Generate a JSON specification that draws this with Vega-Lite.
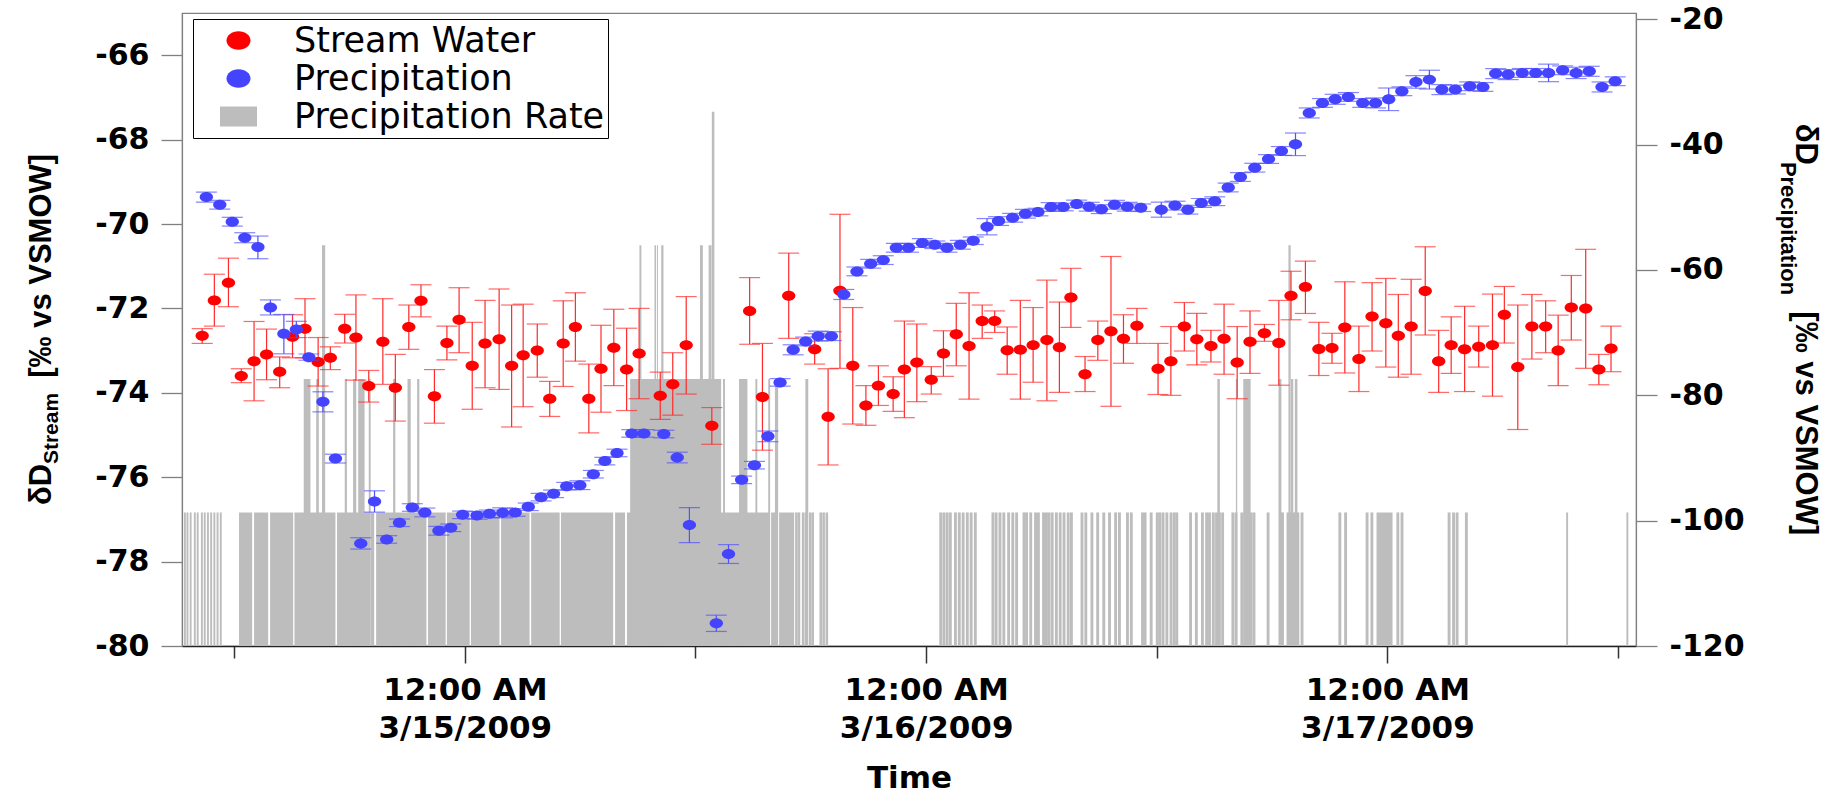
{
  "$schema": "https://vega.github.io/schema/vega-lite/v6.json",
  "width": 1454,
  "height": 633,
  "autosize": {"type": "none"},
  "padding": {"left": 182, "top": 13, "right": 193, "bottom": 149},
  "background": "white",
  "config": {"view": {"stroke": "#808080", "strokeWidth": 1.2}, "axis": {"grid": false}},
  "datasets": {
    "stream": [
      {"t":"2009-03-14T10:20","v":-72.65,"hi":-72.48,"lo":-72.83},
      {"t":"2009-03-14T10:58","v":-71.81,"hi":-71.19,"lo":-72.42},
      {"t":"2009-03-14T11:42","v":-71.39,"hi":-70.81,"lo":-71.96},
      {"t":"2009-03-14T12:22","v":-73.60,"hi":-73.43,"lo":-73.76},
      {"t":"2009-03-14T13:02","v":-73.25,"hi":-72.31,"lo":-74.19},
      {"t":"2009-03-14T13:41","v":-73.09,"hi":-72.49,"lo":-73.69},
      {"t":"2009-03-14T14:22","v":-73.50,"hi":-73.15,"lo":-73.88},
      {"t":"2009-03-14T15:02","v":-72.67,"hi":-72.15,"lo":-73.17},
      {"t":"2009-03-14T15:41","v":-72.48,"hi":-71.77,"lo":-73.17},
      {"t":"2009-03-14T16:22","v":-73.27,"hi":-72.69,"lo":-73.84},
      {"t":"2009-03-14T17:00","v":-73.17,"hi":-72.91,"lo":-73.45},
      {"t":"2009-03-14T17:45","v":-72.48,"hi":-72.14,"lo":-72.82},
      {"t":"2009-03-14T18:20","v":-72.69,"hi":-71.68,"lo":-73.70},
      {"t":"2009-03-14T19:00","v":-73.84,"hi":-73.47,"lo":-74.22},
      {"t":"2009-03-14T19:44","v":-72.79,"hi":-71.77,"lo":-73.80},
      {"t":"2009-03-14T20:23","v":-73.88,"hi":-73.09,"lo":-74.67},
      {"t":"2009-03-14T21:05","v":-72.44,"hi":-71.92,"lo":-72.97},
      {"t":"2009-03-14T21:43","v":-71.82,"hi":-71.44,"lo":-72.20},
      {"t":"2009-03-14T22:25","v":-74.08,"hi":-73.45,"lo":-74.72},
      {"t":"2009-03-14T23:04","v":-72.82,"hi":-72.42,"lo":-73.22},
      {"t":"2009-03-14T23:42","v":-72.27,"hi":-71.51,"lo":-73.05},
      {"t":"2009-03-15T00:23","v":-73.36,"hi":-72.33,"lo":-74.39},
      {"t":"2009-03-15T01:03","v":-72.83,"hi":-71.81,"lo":-73.88},
      {"t":"2009-03-15T01:47","v":-72.73,"hi":-71.54,"lo":-73.92},
      {"t":"2009-03-15T02:26","v":-73.36,"hi":-71.92,"lo":-74.81},
      {"t":"2009-03-15T03:02","v":-73.11,"hi":-71.90,"lo":-74.33},
      {"t":"2009-03-15T03:46","v":-73.00,"hi":-72.37,"lo":-73.63},
      {"t":"2009-03-15T04:25","v":-74.14,"hi":-73.73,"lo":-74.56},
      {"t":"2009-03-15T05:07","v":-72.83,"hi":-71.82,"lo":-73.85},
      {"t":"2009-03-15T05:45","v":-72.44,"hi":-71.63,"lo":-73.25},
      {"t":"2009-03-15T06:27","v":-74.14,"hi":-73.32,"lo":-74.95},
      {"t":"2009-03-15T07:05","v":-73.43,"hi":-72.40,"lo":-74.46},
      {"t":"2009-03-15T07:45","v":-72.93,"hi":-72.02,"lo":-73.83},
      {"t":"2009-03-15T08:25","v":-73.45,"hi":-72.47,"lo":-74.42},
      {"t":"2009-03-15T09:04","v":-73.07,"hi":-72.00,"lo":-74.14},
      {"t":"2009-03-15T10:10","v":-74.07,"hi":-73.51,"lo":-74.63},
      {"t":"2009-03-15T10:49","v":-73.80,"hi":-73.05,"lo":-74.53},
      {"t":"2009-03-15T11:31","v":-72.87,"hi":-71.72,"lo":-74.03},
      {"t":"2009-03-15T12:51","v":-74.78,"hi":-74.35,"lo":-75.22},
      {"t":"2009-03-15T14:49","v":-72.06,"hi":-71.27,"lo":-72.85},
      {"t":"2009-03-15T15:29","v":-74.10,"hi":-72.83,"lo":-75.36},
      {"t":"2009-03-15T16:51","v":-71.70,"hi":-70.69,"lo":-72.71},
      {"t":"2009-03-15T18:12","v":-72.97,"hi":-72.60,"lo":-73.32},
      {"t":"2009-03-15T18:54","v":-74.57,"hi":-73.43,"lo":-75.71},
      {"t":"2009-03-15T19:31","v":-71.58,"hi":-69.77,"lo":-73.42},
      {"t":"2009-03-15T20:11","v":-73.36,"hi":-71.98,"lo":-74.74},
      {"t":"2009-03-15T20:52","v":-74.30,"hi":-73.83,"lo":-74.77},
      {"t":"2009-03-15T21:31","v":-73.83,"hi":-73.36,"lo":-74.30},
      {"t":"2009-03-15T22:17","v":-74.03,"hi":-73.62,"lo":-74.44},
      {"t":"2009-03-15T22:52","v":-73.45,"hi":-72.30,"lo":-74.59},
      {"t":"2009-03-15T23:31","v":-73.28,"hi":-72.37,"lo":-74.21},
      {"t":"2009-03-16T00:16","v":-73.69,"hi":-73.38,"lo":-74.03},
      {"t":"2009-03-16T00:54","v":-73.07,"hi":-72.53,"lo":-73.61},
      {"t":"2009-03-16T01:34","v":-72.61,"hi":-71.88,"lo":-73.36},
      {"t":"2009-03-16T02:14","v":-72.89,"hi":-71.63,"lo":-74.15},
      {"t":"2009-03-16T02:55","v":-72.30,"hi":-71.92,"lo":-72.71},
      {"t":"2009-03-16T03:34","v":-72.30,"hi":-72.06,"lo":-72.57},
      {"t":"2009-03-16T04:13","v":-72.99,"hi":-72.44,"lo":-73.56},
      {"t":"2009-03-16T04:54","v":-72.98,"hi":-71.81,"lo":-74.15},
      {"t":"2009-03-16T05:34","v":-72.87,"hi":-71.98,"lo":-73.75},
      {"t":"2009-03-16T06:17","v":-72.75,"hi":-71.33,"lo":-74.19},
      {"t":"2009-03-16T06:56","v":-72.92,"hi":-71.85,"lo":-73.99},
      {"t":"2009-03-16T07:32","v":-71.74,"hi":-71.05,"lo":-72.45},
      {"t":"2009-03-16T08:16","v":-73.56,"hi":-73.14,"lo":-73.97},
      {"t":"2009-03-16T08:56","v":-72.75,"hi":-72.30,"lo":-73.23},
      {"t":"2009-03-16T09:37","v":-72.54,"hi":-70.77,"lo":-74.32},
      {"t":"2009-03-16T10:16","v":-72.72,"hi":-72.15,"lo":-73.30},
      {"t":"2009-03-16T10:58","v":-72.41,"hi":-72.00,"lo":-72.83},
      {"t":"2009-03-16T12:04","v":-73.43,"hi":-72.83,"lo":-74.04},
      {"t":"2009-03-16T12:44","v":-73.25,"hi":-72.43,"lo":-74.06},
      {"t":"2009-03-16T13:26","v":-72.43,"hi":-71.86,"lo":-73.01},
      {"t":"2009-03-16T14:05","v":-72.73,"hi":-72.12,"lo":-73.34},
      {"t":"2009-03-16T14:49","v":-72.89,"hi":-72.52,"lo":-73.27},
      {"t":"2009-03-16T15:30","v":-72.72,"hi":-71.90,"lo":-73.56},
      {"t":"2009-03-16T16:11","v":-73.28,"hi":-72.43,"lo":-74.14},
      {"t":"2009-03-16T16:51","v":-72.79,"hi":-72.06,"lo":-73.54},
      {"t":"2009-03-16T17:36","v":-72.59,"hi":-72.38,"lo":-72.78},
      {"t":"2009-03-16T18:21","v":-72.82,"hi":-71.81,"lo":-73.82},
      {"t":"2009-03-16T18:59","v":-71.70,"hi":-71.12,"lo":-72.27},
      {"t":"2009-03-16T19:44","v":-71.49,"hi":-70.88,"lo":-72.12},
      {"t":"2009-03-16T20:26","v":-72.96,"hi":-72.33,"lo":-73.59},
      {"t":"2009-03-16T21:07","v":-72.94,"hi":-72.59,"lo":-73.30},
      {"t":"2009-03-16T21:47","v":-72.45,"hi":-71.37,"lo":-73.53},
      {"t":"2009-03-16T22:31","v":-73.20,"hi":-72.42,"lo":-73.97},
      {"t":"2009-03-16T23:12","v":-72.19,"hi":-71.39,"lo":-73.01},
      {"t":"2009-03-16T23:55","v":-72.35,"hi":-71.29,"lo":-73.39},
      {"t":"2009-03-17T00:34","v":-72.65,"hi":-71.67,"lo":-73.63},
      {"t":"2009-03-17T01:14","v":-72.43,"hi":-71.31,"lo":-73.56},
      {"t":"2009-03-17T01:58","v":-71.59,"hi":-70.54,"lo":-72.63},
      {"t":"2009-03-17T02:40","v":-73.25,"hi":-72.52,"lo":-73.99},
      {"t":"2009-03-17T03:19","v":-72.87,"hi":-72.20,"lo":-73.54},
      {"t":"2009-03-17T04:01","v":-72.97,"hi":-71.95,"lo":-73.97},
      {"t":"2009-03-17T04:45","v":-72.91,"hi":-72.42,"lo":-73.39},
      {"t":"2009-03-17T05:28","v":-72.87,"hi":-71.66,"lo":-74.08},
      {"t":"2009-03-17T06:05","v":-72.15,"hi":-71.48,"lo":-72.82},
      {"t":"2009-03-17T06:47","v":-73.39,"hi":-71.92,"lo":-74.87},
      {"t":"2009-03-17T07:31","v":-72.43,"hi":-71.67,"lo":-73.20},
      {"t":"2009-03-17T08:14","v":-72.43,"hi":-71.82,"lo":-73.05},
      {"t":"2009-03-17T08:53","v":-73.00,"hi":-72.16,"lo":-73.83},
      {"t":"2009-03-17T09:34","v":-71.98,"hi":-71.22,"lo":-72.75},
      {"t":"2009-03-17T10:19","v":-72.00,"hi":-70.60,"lo":-73.42},
      {"t":"2009-03-17T11:00","v":-73.45,"hi":-73.09,"lo":-73.81},
      {"t":"2009-03-17T11:38","v":-72.95,"hi":-72.42,"lo":-73.50}
    ],
    "precip": [
      {"t":"2009-03-14T10:33","v":-48.37,"hi":-47.57,"lo":-49.17},
      {"t":"2009-03-14T11:15","v":-49.59,"hi":-48.89,"lo":-50.29},
      {"t":"2009-03-14T11:54","v":-52.30,"hi":-51.60,"lo":-53.00},
      {"t":"2009-03-14T12:33","v":-54.86,"hi":-54.06,"lo":-55.66},
      {"t":"2009-03-14T13:14","v":-56.35,"hi":-54.59,"lo":-58.21},
      {"t":"2009-03-14T13:53","v":-65.98,"hi":-64.78,"lo":-67.18},
      {"t":"2009-03-14T14:35","v":-70.19,"hi":-67.10,"lo":-73.38},
      {"t":"2009-03-14T15:14","v":-69.49,"hi":-68.19,"lo":-70.79},
      {"t":"2009-03-14T15:53","v":-73.91,"hi":-73.41,"lo":-74.41},
      {"t":"2009-03-14T16:37","v":-81.04,"hi":-79.44,"lo":-82.64},
      {"t":"2009-03-14T17:16","v":-90.10,"hi":-89.40,"lo":-90.80},
      {"t":"2009-03-14T18:35","v":-103.63,"hi":-102.73,"lo":-104.53},
      {"t":"2009-03-14T19:18","v":-96.94,"hi":-95.24,"lo":-98.64},
      {"t":"2009-03-14T19:56","v":-103.00,"hi":-102.40,"lo":-103.60},
      {"t":"2009-03-14T20:36","v":-100.34,"hi":-99.74,"lo":-100.94},
      {"t":"2009-03-14T21:16","v":-97.90,"hi":-97.30,"lo":-98.50},
      {"t":"2009-03-14T21:55","v":-98.69,"hi":-97.99,"lo":-99.39},
      {"t":"2009-03-14T22:39","v":-101.61,"hi":-100.91,"lo":-102.31},
      {"t":"2009-03-14T23:16","v":-101.14,"hi":-100.54,"lo":-101.74},
      {"t":"2009-03-14T23:53","v":-99.07,"hi":-98.47,"lo":-99.67},
      {"t":"2009-03-15T00:38","v":-99.17,"hi":-98.57,"lo":-99.77},
      {"t":"2009-03-15T01:17","v":-98.91,"hi":-98.31,"lo":-99.51},
      {"t":"2009-03-15T01:58","v":-98.75,"hi":-97.95,"lo":-99.55},
      {"t":"2009-03-15T02:37","v":-98.69,"hi":-98.09,"lo":-99.29},
      {"t":"2009-03-15T03:18","v":-97.79,"hi":-97.19,"lo":-98.39},
      {"t":"2009-03-15T03:58","v":-96.25,"hi":-95.65,"lo":-96.85},
      {"t":"2009-03-15T04:37","v":-95.72,"hi":-95.12,"lo":-96.32},
      {"t":"2009-03-15T05:18","v":-94.50,"hi":-93.90,"lo":-95.10},
      {"t":"2009-03-15T05:59","v":-94.34,"hi":-93.64,"lo":-95.04},
      {"t":"2009-03-15T06:41","v":-92.59,"hi":-91.99,"lo":-93.19},
      {"t":"2009-03-15T07:17","v":-90.50,"hi":-89.90,"lo":-91.10},
      {"t":"2009-03-15T07:55","v":-89.20,"hi":-88.60,"lo":-89.80},
      {"t":"2009-03-15T08:41","v":-86.08,"hi":-85.48,"lo":-86.68},
      {"t":"2009-03-15T09:19","v":-86.08,"hi":-85.48,"lo":-86.68},
      {"t":"2009-03-15T10:21","v":-86.18,"hi":-85.58,"lo":-86.78},
      {"t":"2009-03-15T11:03","v":-89.93,"hi":-89.08,"lo":-90.78},
      {"t":"2009-03-15T11:41","v":-100.71,"hi":-97.91,"lo":-103.51},
      {"t":"2009-03-15T13:05","v":-116.38,"hi":-115.08,"lo":-117.68},
      {"t":"2009-03-15T13:43","v":-105.33,"hi":-103.83,"lo":-106.83},
      {"t":"2009-03-15T14:24","v":-93.49,"hi":-92.89,"lo":-94.09},
      {"t":"2009-03-15T15:04","v":-91.15,"hi":-90.55,"lo":-91.75},
      {"t":"2009-03-15T15:46","v":-86.55,"hi":-85.70,"lo":-87.40},
      {"t":"2009-03-15T16:24","v":-77.94,"hi":-77.34,"lo":-78.54},
      {"t":"2009-03-15T17:05","v":-72.74,"hi":-71.94,"lo":-73.54},
      {"t":"2009-03-15T17:44","v":-71.41,"hi":-70.71,"lo":-72.11},
      {"t":"2009-03-15T18:23","v":-70.56,"hi":-69.76,"lo":-71.36},
      {"t":"2009-03-15T19:04","v":-70.56,"hi":-69.86,"lo":-71.26},
      {"t":"2009-03-15T19:43","v":-63.91,"hi":-63.11,"lo":-64.71},
      {"t":"2009-03-15T20:24","v":-60.23,"hi":-59.53,"lo":-60.93},
      {"t":"2009-03-15T21:07","v":-59.01,"hi":-58.31,"lo":-59.71},
      {"t":"2009-03-15T21:46","v":-58.43,"hi":-57.73,"lo":-59.13},
      {"t":"2009-03-15T22:27","v":-56.46,"hi":-55.76,"lo":-57.16},
      {"t":"2009-03-15T23:05","v":-56.46,"hi":-55.76,"lo":-57.16},
      {"t":"2009-03-15T23:48","v":-55.70,"hi":-55.00,"lo":-56.40},
      {"t":"2009-03-16T00:27","v":-55.98,"hi":-55.38,"lo":-56.58},
      {"t":"2009-03-16T01:05","v":-56.46,"hi":-55.76,"lo":-57.16},
      {"t":"2009-03-16T01:47","v":-55.98,"hi":-55.28,"lo":-56.68},
      {"t":"2009-03-16T02:27","v":-55.34,"hi":-54.74,"lo":-55.94},
      {"t":"2009-03-16T03:10","v":-53.10,"hi":-51.80,"lo":-54.40},
      {"t":"2009-03-16T03:46","v":-52.20,"hi":-51.50,"lo":-52.90},
      {"t":"2009-03-16T04:30","v":-51.67,"hi":-50.97,"lo":-52.37},
      {"t":"2009-03-16T05:10","v":-51.03,"hi":-50.33,"lo":-51.73},
      {"t":"2009-03-16T05:49","v":-50.76,"hi":-50.16,"lo":-51.36},
      {"t":"2009-03-16T06:30","v":-49.96,"hi":-49.26,"lo":-50.66},
      {"t":"2009-03-16T07:08","v":-49.96,"hi":-49.36,"lo":-50.56},
      {"t":"2009-03-16T07:50","v":-49.46,"hi":-48.86,"lo":-50.06},
      {"t":"2009-03-16T08:29","v":-49.91,"hi":-49.21,"lo":-50.61},
      {"t":"2009-03-16T09:07","v":-50.30,"hi":-49.60,"lo":-51.00},
      {"t":"2009-03-16T09:48","v":-49.59,"hi":-48.89,"lo":-50.29},
      {"t":"2009-03-16T10:28","v":-49.91,"hi":-49.21,"lo":-50.61},
      {"t":"2009-03-16T11:10","v":-50.07,"hi":-49.47,"lo":-50.67},
      {"t":"2009-03-16T12:14","v":-50.38,"hi":-49.18,"lo":-51.58},
      {"t":"2009-03-16T12:57","v":-49.73,"hi":-49.03,"lo":-50.43},
      {"t":"2009-03-16T13:37","v":-50.38,"hi":-49.68,"lo":-51.08},
      {"t":"2009-03-16T14:19","v":-49.30,"hi":-48.60,"lo":-50.00},
      {"t":"2009-03-16T15:01","v":-49.03,"hi":-48.33,"lo":-49.73},
      {"t":"2009-03-16T15:43","v":-46.84,"hi":-46.14,"lo":-47.54},
      {"t":"2009-03-16T16:21","v":-45.17,"hi":-44.47,"lo":-45.87},
      {"t":"2009-03-16T17:06","v":-43.68,"hi":-42.98,"lo":-44.38},
      {"t":"2009-03-16T17:49","v":-42.30,"hi":-41.60,"lo":-43.00},
      {"t":"2009-03-16T18:29","v":-41.01,"hi":-40.31,"lo":-41.71},
      {"t":"2009-03-16T19:13","v":-39.95,"hi":-38.15,"lo":-41.75},
      {"t":"2009-03-16T19:56","v":-34.95,"hi":-34.15,"lo":-35.75},
      {"t":"2009-03-16T20:37","v":-33.35,"hi":-32.65,"lo":-34.05},
      {"t":"2009-03-16T21:17","v":-32.77,"hi":-31.97,"lo":-33.57},
      {"t":"2009-03-16T21:58","v":-32.39,"hi":-31.69,"lo":-33.09},
      {"t":"2009-03-16T22:43","v":-33.35,"hi":-32.65,"lo":-34.05},
      {"t":"2009-03-16T23:23","v":-33.35,"hi":-32.55,"lo":-34.15},
      {"t":"2009-03-17T00:04","v":-32.77,"hi":-30.97,"lo":-34.57},
      {"t":"2009-03-17T00:45","v":-31.49,"hi":-30.79,"lo":-32.19},
      {"t":"2009-03-17T01:29","v":-30.00,"hi":-29.00,"lo":-31.00},
      {"t":"2009-03-17T02:11","v":-29.63,"hi":-28.13,"lo":-31.13},
      {"t":"2009-03-17T02:50","v":-31.22,"hi":-30.42,"lo":-32.02},
      {"t":"2009-03-17T03:32","v":-31.22,"hi":-30.52,"lo":-31.92},
      {"t":"2009-03-17T04:17","v":-30.69,"hi":-29.99,"lo":-31.39},
      {"t":"2009-03-17T04:58","v":-30.80,"hi":-30.10,"lo":-31.50},
      {"t":"2009-03-17T05:38","v":-28.67,"hi":-27.87,"lo":-29.47},
      {"t":"2009-03-17T06:17","v":-28.83,"hi":-28.03,"lo":-29.63},
      {"t":"2009-03-17T07:01","v":-28.56,"hi":-27.86,"lo":-29.26},
      {"t":"2009-03-17T07:43","v":-28.56,"hi":-27.86,"lo":-29.26},
      {"t":"2009-03-17T08:23","v":-28.56,"hi":-27.16,"lo":-29.96},
      {"t":"2009-03-17T09:07","v":-28.14,"hi":-27.44,"lo":-28.84},
      {"t":"2009-03-17T09:49","v":-28.56,"hi":-27.66,"lo":-29.46},
      {"t":"2009-03-17T10:30","v":-28.30,"hi":-27.50,"lo":-29.10},
      {"t":"2009-03-17T11:10","v":-30.80,"hi":-30.00,"lo":-31.60},
      {"t":"2009-03-17T11:51","v":-29.89,"hi":-29.19,"lo":-30.59}
    ],
    "rate": [
      {"t":"2009-03-14T09:23","t2":"2009-03-14T09:29","rate":1},
      {"t":"2009-03-14T09:31","t2":"2009-03-14T09:37","rate":1},
      {"t":"2009-03-14T09:41","t2":"2009-03-14T09:47","rate":1},
      {"t":"2009-03-14T09:54","t2":"2009-03-14T10:00","rate":1},
      {"t":"2009-03-14T10:03","t2":"2009-03-14T10:09","rate":1},
      {"t":"2009-03-14T10:16","t2":"2009-03-14T10:22","rate":1},
      {"t":"2009-03-14T10:25","t2":"2009-03-14T10:31","rate":1},
      {"t":"2009-03-14T10:35","t2":"2009-03-14T10:41","rate":1},
      {"t":"2009-03-14T10:45","t2":"2009-03-14T10:51","rate":1},
      {"t":"2009-03-14T10:55","t2":"2009-03-14T11:01","rate":1},
      {"t":"2009-03-14T11:05","t2":"2009-03-14T11:11","rate":1},
      {"t":"2009-03-14T11:15","t2":"2009-03-14T11:21","rate":1},
      {"t":"2009-03-14T12:15","t2":"2009-03-14T12:56","rate":1},
      {"t":"2009-03-14T13:02","t2":"2009-03-14T13:46","rate":1},
      {"t":"2009-03-14T13:52","t2":"2009-03-14T15:04","rate":1},
      {"t":"2009-03-14T15:08","t2":"2009-03-14T17:16","rate":1},
      {"t":"2009-03-14T17:21","t2":"2009-03-14T19:01","rate":1},
      {"t":"2009-03-14T19:06","t2":"2009-03-14T19:17","rate":1},
      {"t":"2009-03-14T19:23","t2":"2009-03-14T22:00","rate":1},
      {"t":"2009-03-14T22:05","t2":"2009-03-14T23:00","rate":1},
      {"t":"2009-03-14T23:04","t2":"2009-03-15T00:15","rate":1},
      {"t":"2009-03-15T00:19","t2":"2009-03-15T01:48","rate":1},
      {"t":"2009-03-15T01:53","t2":"2009-03-15T03:22","rate":1},
      {"t":"2009-03-15T03:27","t2":"2009-03-15T04:56","rate":1},
      {"t":"2009-03-15T05:00","t2":"2009-03-15T07:43","rate":1},
      {"t":"2009-03-15T07:49","t2":"2009-03-15T08:20","rate":1},
      {"t":"2009-03-15T08:26","t2":"2009-03-15T11:01","rate":1},
      {"t":"2009-03-15T11:06","t2":"2009-03-15T15:51","rate":1},
      {"t":"2009-03-15T15:56","t2":"2009-03-15T16:16","rate":1},
      {"t":"2009-03-15T16:21","t2":"2009-03-15T17:08","rate":1},
      {"t":"2009-03-15T17:11","t2":"2009-03-15T17:19","rate":1},
      {"t":"2009-03-15T17:19","t2":"2009-03-15T17:27","rate":1},
      {"t":"2009-03-15T17:32","t2":"2009-03-15T17:40","rate":1},
      {"t":"2009-03-15T17:41","t2":"2009-03-15T17:49","rate":1},
      {"t":"2009-03-15T17:54","t2":"2009-03-15T18:02","rate":1},
      {"t":"2009-03-15T18:02","t2":"2009-03-15T18:10","rate":1},
      {"t":"2009-03-15T18:27","t2":"2009-03-15T18:35","rate":1},
      {"t":"2009-03-15T18:36","t2":"2009-03-15T18:44","rate":1},
      {"t":"2009-03-15T18:46","t2":"2009-03-15T18:54","rate":1},
      {"t":"2009-03-16T00:41","t2":"2009-03-16T00:50","rate":1},
      {"t":"2009-03-16T00:51","t2":"2009-03-16T01:00","rate":1},
      {"t":"2009-03-16T01:01","t2":"2009-03-16T01:10","rate":1},
      {"t":"2009-03-16T01:11","t2":"2009-03-16T01:20","rate":1},
      {"t":"2009-03-16T01:27","t2":"2009-03-16T01:36","rate":1},
      {"t":"2009-03-16T01:39","t2":"2009-03-16T01:48","rate":1},
      {"t":"2009-03-16T01:51","t2":"2009-03-16T02:00","rate":1},
      {"t":"2009-03-16T02:04","t2":"2009-03-16T02:13","rate":1},
      {"t":"2009-03-16T02:16","t2":"2009-03-16T02:25","rate":1},
      {"t":"2009-03-16T02:29","t2":"2009-03-16T02:38","rate":1},
      {"t":"2009-03-16T03:24","t2":"2009-03-16T03:33","rate":1},
      {"t":"2009-03-16T03:34","t2":"2009-03-16T03:43","rate":1},
      {"t":"2009-03-16T03:46","t2":"2009-03-16T03:55","rate":1},
      {"t":"2009-03-16T03:58","t2":"2009-03-16T04:07","rate":1},
      {"t":"2009-03-16T04:13","t2":"2009-03-16T04:22","rate":1},
      {"t":"2009-03-16T04:26","t2":"2009-03-16T04:35","rate":1},
      {"t":"2009-03-16T04:38","t2":"2009-03-16T04:47","rate":1},
      {"t":"2009-03-16T05:01","t2":"2009-03-16T05:10","rate":1},
      {"t":"2009-03-16T05:09","t2":"2009-03-16T05:18","rate":1},
      {"t":"2009-03-16T05:22","t2":"2009-03-16T05:31","rate":1},
      {"t":"2009-03-16T05:37","t2":"2009-03-16T05:46","rate":1},
      {"t":"2009-03-16T05:46","t2":"2009-03-16T05:55","rate":1},
      {"t":"2009-03-16T06:02","t2":"2009-03-16T06:11","rate":1},
      {"t":"2009-03-16T06:11","t2":"2009-03-16T06:20","rate":1},
      {"t":"2009-03-16T06:19","t2":"2009-03-16T06:28","rate":1},
      {"t":"2009-03-16T06:29","t2":"2009-03-16T06:38","rate":1},
      {"t":"2009-03-16T06:42","t2":"2009-03-16T06:51","rate":1},
      {"t":"2009-03-16T06:54","t2":"2009-03-16T07:03","rate":1},
      {"t":"2009-03-16T07:06","t2":"2009-03-16T07:15","rate":1},
      {"t":"2009-03-16T07:19","t2":"2009-03-16T07:28","rate":1},
      {"t":"2009-03-16T07:29","t2":"2009-03-16T07:38","rate":1},
      {"t":"2009-03-16T08:02","t2":"2009-03-16T08:11","rate":1},
      {"t":"2009-03-16T08:14","t2":"2009-03-16T08:23","rate":1},
      {"t":"2009-03-16T08:33","t2":"2009-03-16T08:42","rate":1},
      {"t":"2009-03-16T08:51","t2":"2009-03-16T09:00","rate":1},
      {"t":"2009-03-16T09:10","t2":"2009-03-16T09:19","rate":1},
      {"t":"2009-03-16T09:28","t2":"2009-03-16T09:37","rate":1},
      {"t":"2009-03-16T09:47","t2":"2009-03-16T09:56","rate":1},
      {"t":"2009-03-16T09:59","t2":"2009-03-16T10:08","rate":1},
      {"t":"2009-03-16T10:24","t2":"2009-03-16T10:33","rate":1},
      {"t":"2009-03-16T10:36","t2":"2009-03-16T10:45","rate":1},
      {"t":"2009-03-16T11:11","t2":"2009-03-16T11:20","rate":1},
      {"t":"2009-03-16T11:19","t2":"2009-03-16T11:28","rate":1},
      {"t":"2009-03-16T11:38","t2":"2009-03-16T11:47","rate":1},
      {"t":"2009-03-16T11:57","t2":"2009-03-16T12:06","rate":1},
      {"t":"2009-03-16T12:05","t2":"2009-03-16T12:14","rate":1},
      {"t":"2009-03-16T12:15","t2":"2009-03-16T12:24","rate":1},
      {"t":"2009-03-16T12:27","t2":"2009-03-16T12:36","rate":1},
      {"t":"2009-03-16T12:40","t2":"2009-03-16T12:49","rate":1},
      {"t":"2009-03-16T12:50","t2":"2009-03-16T12:59","rate":1},
      {"t":"2009-03-16T12:58","t2":"2009-03-16T13:07","rate":1},
      {"t":"2009-03-16T13:41","t2":"2009-03-16T13:50","rate":1},
      {"t":"2009-03-16T13:59","t2":"2009-03-16T14:08","rate":1},
      {"t":"2009-03-16T14:18","t2":"2009-03-16T14:27","rate":1},
      {"t":"2009-03-16T14:31","t2":"2009-03-16T14:40","rate":1},
      {"t":"2009-03-16T14:40","t2":"2009-03-16T14:49","rate":1},
      {"t":"2009-03-16T14:52","t2":"2009-03-16T15:01","rate":1},
      {"t":"2009-03-16T15:02","t2":"2009-03-16T15:11","rate":1},
      {"t":"2009-03-16T15:11","t2":"2009-03-16T15:20","rate":1},
      {"t":"2009-03-16T15:21","t2":"2009-03-16T15:30","rate":1},
      {"t":"2009-03-16T15:53","t2":"2009-03-16T16:02","rate":1},
      {"t":"2009-03-16T16:03","t2":"2009-03-16T16:12","rate":1},
      {"t":"2009-03-16T16:21","t2":"2009-03-16T16:30","rate":1},
      {"t":"2009-03-16T16:31","t2":"2009-03-16T16:40","rate":1},
      {"t":"2009-03-16T16:40","t2":"2009-03-16T16:49","rate":1},
      {"t":"2009-03-16T16:50","t2":"2009-03-16T16:59","rate":1},
      {"t":"2009-03-16T16:59","t2":"2009-03-16T17:08","rate":1},
      {"t":"2009-03-16T17:43","t2":"2009-03-16T17:52","rate":1},
      {"t":"2009-03-16T18:22","t2":"2009-03-16T18:31","rate":1},
      {"t":"2009-03-16T18:28","t2":"2009-03-16T18:37","rate":1},
      {"t":"2009-03-16T18:45","t2":"2009-03-16T18:54","rate":1},
      {"t":"2009-03-16T18:53","t2":"2009-03-16T19:02","rate":1},
      {"t":"2009-03-16T19:01","t2":"2009-03-16T19:10","rate":1},
      {"t":"2009-03-16T19:08","t2":"2009-03-16T19:17","rate":1},
      {"t":"2009-03-16T19:16","t2":"2009-03-16T19:25","rate":1},
      {"t":"2009-03-16T19:29","t2":"2009-03-16T19:38","rate":1},
      {"t":"2009-03-16T21:27","t2":"2009-03-16T21:36","rate":1},
      {"t":"2009-03-16T21:45","t2":"2009-03-16T21:54","rate":1},
      {"t":"2009-03-16T22:52","t2":"2009-03-16T23:01","rate":1},
      {"t":"2009-03-16T23:07","t2":"2009-03-16T23:16","rate":1},
      {"t":"2009-03-16T23:26","t2":"2009-03-17T00:16","rate":1},
      {"t":"2009-03-17T00:28","t2":"2009-03-17T00:37","rate":1},
      {"t":"2009-03-17T00:41","t2":"2009-03-17T00:50","rate":1},
      {"t":"2009-03-17T03:08","t2":"2009-03-17T03:17","rate":1},
      {"t":"2009-03-17T03:22","t2":"2009-03-17T03:31","rate":1},
      {"t":"2009-03-17T03:33","t2":"2009-03-17T03:42","rate":1},
      {"t":"2009-03-17T04:02","t2":"2009-03-17T04:11","rate":1},
      {"t":"2009-03-17T09:18","t2":"2009-03-17T09:24","rate":1},
      {"t":"2009-03-17T12:26","t2":"2009-03-17T12:32","rate":1},
      {"t":"2009-03-14T15:37","t2":"2009-03-14T15:58","rate":2},
      {"t":"2009-03-14T16:16","t2":"2009-03-14T16:24","rate":2},
      {"t":"2009-03-14T17:45","t2":"2009-03-14T17:52","rate":2},
      {"t":"2009-03-14T18:11","t2":"2009-03-14T18:21","rate":2},
      {"t":"2009-03-14T18:27","t2":"2009-03-14T18:47","rate":2},
      {"t":"2009-03-14T19:00","t2":"2009-03-14T19:06","rate":2},
      {"t":"2009-03-14T20:16","t2":"2009-03-14T20:23","rate":2},
      {"t":"2009-03-14T21:01","t2":"2009-03-14T21:11","rate":2},
      {"t":"2009-03-14T21:31","t2":"2009-03-14T21:38","rate":2},
      {"t":"2009-03-15T08:36","t2":"2009-03-15T13:20","rate":2},
      {"t":"2009-03-15T13:26","t2":"2009-03-15T13:32","rate":2},
      {"t":"2009-03-15T14:16","t2":"2009-03-15T14:42","rate":2},
      {"t":"2009-03-15T15:07","t2":"2009-03-15T15:13","rate":2},
      {"t":"2009-03-15T15:47","t2":"2009-03-15T15:53","rate":2},
      {"t":"2009-03-15T16:08","t2":"2009-03-15T16:18","rate":2},
      {"t":"2009-03-15T17:43","t2":"2009-03-15T17:52","rate":2},
      {"t":"2009-03-16T15:09","t2":"2009-03-16T15:17","rate":2},
      {"t":"2009-03-16T16:07","t2":"2009-03-16T16:11","rate":2},
      {"t":"2009-03-16T16:30","t2":"2009-03-16T16:53","rate":2},
      {"t":"2009-03-16T18:20","t2":"2009-03-16T18:29","rate":2},
      {"t":"2009-03-16T18:59","t2":"2009-03-16T19:06","rate":2},
      {"t":"2009-03-16T19:11","t2":"2009-03-16T19:19","rate":2},
      {"t":"2009-03-14T16:34","t2":"2009-03-14T16:44","rate":3},
      {"t":"2009-03-15T09:05","t2":"2009-03-15T09:11","rate":3},
      {"t":"2009-03-15T09:52","t2":"2009-03-15T09:57","rate":3},
      {"t":"2009-03-15T10:00","t2":"2009-03-15T10:03","rate":3},
      {"t":"2009-03-15T10:13","t2":"2009-03-15T10:20","rate":3},
      {"t":"2009-03-15T12:14","t2":"2009-03-15T12:23","rate":3},
      {"t":"2009-03-15T12:41","t2":"2009-03-15T12:50","rate":3},
      {"t":"2009-03-16T18:51","t2":"2009-03-16T18:58","rate":3},
      {"t":"2009-03-15T12:51","t2":"2009-03-15T12:59","rate":4}
    ]
  },
  "encoding": {
    "x": {
      "field": "t",
      "type": "temporal",
      "scale": {
        "domain": [
          {"year": 2009, "month": 3, "date": 14, "hours": 9, "minutes": 17},
          {"year": 2009, "month": 3, "date": 17, "hours": 12, "minutes": 56}
        ],
        "nice": false
      },
      "axis": {
        "values": [
          {"year": 2009, "month": 3, "date": 14, "hours": 12},
          {"year": 2009, "month": 3, "date": 15, "hours": 0},
          {"year": 2009, "month": 3, "date": 15, "hours": 12},
          {"year": 2009, "month": 3, "date": 16, "hours": 0},
          {"year": 2009, "month": 3, "date": 16, "hours": 12},
          {"year": 2009, "month": 3, "date": 17, "hours": 0},
          {"year": 2009, "month": 3, "date": 17, "hours": 12}
        ],
        "labelExpr": "hours(datum.value) == 0 ? ['12:00 AM', (month(datum.value) + 1) + '/' + date(datum.value) + '/' + year(datum.value)] : ''",
        "tickSize": {"condition": {"test": "hours(datum.value) == 0", "value": 17}, "value": 12},
        "tickColor": "#333333",
        "tickWidth": 1.5,
        "domainColor": "#222222",
        "domainWidth": 1.5,
        "labelFont": "DejaVu Sans",
        "labelFontWeight": "bold",
        "labelFontSize": 31,
        "labelColor": "#000000",
        "labelBaseline": "alphabetic",
        "labelPadding": 36,
        "labelLineHeight": 38,
        "labelFlush": false,
        "labelOverlap": false,
        "grid": false,
        "title": "Time",
        "titleFont": "DejaVu Sans",
        "titleFontWeight": "bold",
        "titleFontSize": 31,
        "titleColor": "#000000",
        "titleX": 727,
        "titleY": 141,
        "titleAlign": "center",
        "titleBaseline": "alphabetic"
      }
    }
  },
  "layer": [
    {
      "data": {"name": "rate"},
      "mark": {"type": "bar", "color": "#bdbdbd"},
      "encoding": {
        "x2": {"field": "t2"},
        "y": {
          "field": "rate",
          "type": "quantitative",
          "scale": {"domain": [0, 4.74], "nice": false, "zero": true},
          "axis": {
            "orient": "right",
            "domain": false, "ticks": false, "labels": false, "grid": false,
            "title": "Precipitation",
            "titleFont": "Liberation Sans", "titleFontWeight": "bold", "titleFontSize": 22, "titleColor": "#000000",
            "titleAngle": 90, "titleX": 151, "titleY": 215, "titleAlign": "center", "titleBaseline": "middle"
          }
        },
        "y2": {"datum": 0},
        "color": {
          "datum": "Precipitation Rate",
          "type": "nominal",
          "scale": {"domain": ["Stream Water", "Precipitation", "Precipitation Rate"], "range": ["#ff0000", "#4444ff", "#bdbdbd"]},
          "legend": {
            "title": null,
            "orient": "none",
            "legendX": 11,
            "legendY": 6,
            "direction": "vertical",
            "strokeColor": "#000000",
            "fillColor": "#ffffff",
            "padding": 3,
            "labelFont": "DejaVu Sans",
            "labelFontSize": 35,
            "labelColor": "#000000",
            "labelOffset": 37,
            "symbolOffset": 24,
            "symbolSize": 1369,
            "symbolStrokeWidth": 0,
            "symbolOpacity": 1,
            "rowPadding": 1,
            "labelLimit": 0,
            "encode": {
              "symbols": {
                "update": {
                  "shape": {"signal": "datum.value === 'Precipitation Rate' ? 'M-1,-0.54H1V0.54H-1Z' : 'M-0.65,0A0.65,0.5,0,1,1,0.65,0A0.65,0.5,0,1,1,-0.65,0Z'"}
                }
              }
            }
          }
        }
      }
    },
    {
      "data": {"name": "stream"},
      "mark": {"type": "errorbar", "color": "#ff2a2a", "ticks": {"size": 21, "thickness": 1.2}, "rule": {"strokeWidth": 1.2}},
      "encoding": {
        "y": {
          "field": "lo",
          "type": "quantitative",
          "scale": {"domain": [-80, -65], "nice": false, "zero": false},
          "axis": {
            "orient": "left",
            "domain": false, "ticks": false, "labels": false, "grid": false,
            "title": "Stream",
            "titleFont": "Liberation Sans", "titleFontWeight": "bold", "titleFontSize": 21, "titleColor": "#000000",
            "titleAngle": -90, "titleX": -131, "titleY": 415, "titleAlign": "center", "titleBaseline": "middle"
          }
        },
        "y2": {"field": "hi"}
      }
    },
    {
      "data": {"name": "stream"},
      "mark": {"type": "point", "filled": true, "opacity": 1, "size": 177, "shape": "M-1,0A1,0.75,0,1,1,1,0A1,0.75,0,1,1,-1,0Z"},
      "encoding": {
        "y": {
          "field": "v",
          "type": "quantitative",
          "scale": {"domain": [-80, -65], "nice": false, "zero": false},
          "axis": {
            "orient": "left",
            "values": [-80, -78, -76, -74, -72, -70, -68, -66],
            "labelExpr": "'' + datum.value",
            "labelFont": "DejaVu Sans", "labelFontWeight": "bold", "labelFontSize": 30, "labelColor": "#000000",
            "labelPadding": 12, "tickSize": 21, "tickColor": "#808080", "tickWidth": 1.3,
            "domainColor": "#808080", "domainWidth": 1.2, "grid": false,
            "title": "δD\u00a0\u00a0\u00a0\u00a0\u00a0\u00a0\u00a0\u00a0\u00a0\u00a0[‰ vs VSMOW]",
            "titleFont": "Liberation Sans", "titleFontWeight": "bold", "titleFontSize": 31, "titleColor": "#000000",
            "titleAngle": -90, "titleX": -141, "titleY": 316, "titleAlign": "center", "titleBaseline": "middle"
          }
        },
        "color": {"datum": "Stream Water", "type": "nominal"}
      }
    },
    {
      "data": {"name": "precip"},
      "mark": {"type": "errorbar", "color": "#5050ff", "ticks": {"size": 21, "thickness": 1.2}, "rule": {"strokeWidth": 1.2}},
      "encoding": {
        "y": {
          "field": "lo",
          "type": "quantitative",
          "scale": {"domain": [-120, -19], "nice": false, "zero": false},
          "axis": null
        },
        "y2": {"field": "hi"}
      }
    },
    {
      "data": {"name": "precip"},
      "mark": {"type": "point", "filled": true, "opacity": 1, "size": 177, "shape": "M-1,0A1,0.75,0,1,1,1,0A1,0.75,0,1,1,-1,0Z"},
      "encoding": {
        "y": {
          "field": "v",
          "type": "quantitative",
          "scale": {"domain": [-120, -19], "nice": false, "zero": false},
          "axis": {
            "orient": "right",
            "values": [-120, -100, -80, -60, -40, -20],
            "labelExpr": "'' + datum.value",
            "labelFont": "DejaVu Sans", "labelFontWeight": "bold", "labelFontSize": 30, "labelColor": "#000000",
            "labelPadding": 12, "tickSize": 21, "tickColor": "#808080", "tickWidth": 1.3,
            "domainColor": "#808080", "domainWidth": 1.2, "grid": false,
            "title": "δD\u00a0\u00a0\u00a0\u00a0\u00a0\u00a0\u00a0\u00a0\u00a0\u00a0\u00a0\u00a0\u00a0\u00a0\u00a0\u00a0\u00a0[‰ vs VSMOW]",
            "titleFont": "Liberation Sans", "titleFontWeight": "bold", "titleFontSize": 31, "titleColor": "#000000",
            "titleAngle": 90, "titleX": 168, "titleY": 316, "titleAlign": "center", "titleBaseline": "middle"
          }
        },
        "color": {"datum": "Precipitation", "type": "nominal"}
      }
    }
  ],
  "resolve": {"scale": {"y": "independent"}}
}
